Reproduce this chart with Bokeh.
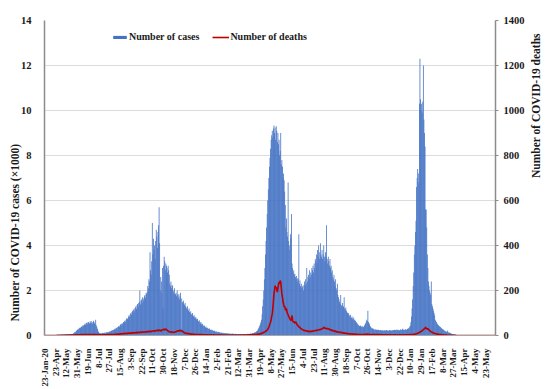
import math
from bokeh.plotting import figure
from bokeh.models import (Range1d, LinearAxis, FixedTicker, Legend, LegendItem, Title)
from bokeh.embed import file_html
from bokeh.resources import INLINE

# ---------------- data ----------------
# x-axis category labels (one every 19 categories)
tick_labels = ["23-Jan-20", "23-Apr", "12-May", "31-May", "19-Jun", "8-Jul", "27-Jul",
               "15-Aug", "3-Sep", "22-Sep", "11-Oct", "30-Oct", "18-Nov", "7-Dec",
               "26-Dec", "14-Jan", "2-Feb", "21-Feb", "12-Mar", "31-Mar", "19-Apr",
               "8-May", "27-May", "15-Jun", "4-Jul", "23-Jul", "11-Aug", "30-Aug",
               "18-Sep", "7-Oct", "26-Oct", "14-Nov", "3-Dec", "22-Dec", "10-Jan",
               "29-Jan", "17-Feb", "8-Mar", "27-Mar", "15-Apr", "4-May", "23-May"]

# daily cases, in thousands
cases_early = [0, 0, 0, 0, 0, 0, 0, 0, 0, 0, 0, 0, 0, 0, 0, 0, 0, 0, 0, .01,
               .01, .02, .01, .02, .02, .03, .02, .02, .03, .03, .03, .03, .04, .03, .04,
               .04, .04, .05, .04, .05, .05, .05, .06, .05, .06, .06, .06, .07, .06, .07]
cases_wave1 = [.08, .10, .12, .15, .14, .18, .20, .24, .27, .26,
               .30, .32, .35, .33, .38, .40, .37, .43, .46, .42,
               .48, .52, .47, .55, .57, .50, .58, .60, .54, .52,
               .62, .57, .64, .56, .52, .60, .66, .61, .55, .50,
               .70, .46, .38, .30, .22, .16, .12,
               .10, .09, .11, .08, .10, .12, .09, .11, .10, .13, .12, .10, .14, .12, .15, .13, .16, .18, .17]
cases_wave2 = [.18, .20, .22, .19, .24, .26, .23, .28, .30, .27, .33, .35, .31, .38, .40,
               .42, .38, .46, .50, .45, .52, .55, .50, .60, .58, .63, .68, .60, .72, .78,
               .75, .70, .85, .90, .82, .95, 1.00, .92, 1.05, 1.10, 1.00, 1.15, 1.20, 1.08, 1.25,
               1.30, 1.18, 1.35, 1.40, 1.28, 1.45, 1.50, 2.00, 1.38, 1.55, 1.60, 1.45, 1.70, 1.65, 1.55,
               1.75, 1.80, 1.68, 1.90, 1.85, 1.95, 2.20, 2.10, 2.50, 2.40, 3.70, 2.90, 2.70, 3.30, 5.00,
               3.60, 4.30, 3.80, 4.00, 3.40, 4.20, 4.70, 4.40, 3.90, 4.60, 4.90, 5.70, 4.10, 2.00, 2.60,
               2.40, 1.90, 3.00, 1.20, 3.10, 3.50, 3.30, 2.90, 3.20, 3.10, 3.00, 2.80, 3.10, 2.90, 2.70,
               2.30, 2.20, 2.40, 2.10, 2.25, 2.20, 2.00, 1.90, 2.10, 1.80, 1.85, 1.90, 1.75, 2.00, 1.80,
               1.70, 1.85, 1.60, 1.75, 1.90, .30, 1.65, 1.50, 1.45, 1.55, 1.40, 1.35, 1.45, 1.30, 1.25,
               1.20, 1.30, 1.15, 1.10, 1.20, 1.05, 1.00, 1.08, .95, .92, 1.00, .88, .85, .90, .80,
               .78, .82, .72, .70, .75, .65, .62, .68, .58, .55, .60, .50, .48, .52, .45,
               .42, .45, .38, .36, .40, .33, .32, .35, .30, .28, .31, .26, .25, .27, .23,
               .22, .24, .20, .19, .21, .18, .17, .19, .16, .15, .17, .14, .13, .15, .12,
               .12, .13, .11, .10, .12, .10, .09, .11, .10, .09, .10, .08, .09, .10, .08,
               .08, .09, .07, .08, .07, .09, .08, .07, .08, .06, .07, .08, .07, .06, .07,
               .06, .07, .05, .06, .07, .06, .05, .06, .07, .06, .05, .06, .07, .06, .07,
               .06, .07, .08, .07, .06, .08, .07, .09, .08, .07, .09, .10, .08, .10, .12]
cases_wave3 = [.13, .15, .14, .18, .20, .22, .28, .32, .40, .45, .52, .60, .70, .95, 1.30,
               1.60, 2.00, 2.50, 3.00, 3.60, 4.20, 4.80, 5.40, 6.00, 6.50, 7.00, 7.50, 7.90, 8.30, 8.70,
               8.90, 9.10, 8.80, 9.20, 9.33, 9.00, 9.25, 8.70, 9.30, 9.10, 8.60, 9.00, 8.50, 8.70, 8.00,
               8.20, 9.00, 7.60, 7.80, 7.50, 7.00, 7.20, 6.90, 6.40, 5.80, 4.80, 5.20, 4.60, 4.40, 6.80,
               4.20, 4.00, 3.80, 4.50, 4.30, 5.40, 3.20, 3.00, 2.80, 2.90, 2.70, 2.75, 2.60, 2.50, 2.65,
               2.40, 2.55, 2.50, 4.50, 2.30, 2.45, 2.20, 2.10, 2.30, 2.15, 2.20, 2.00, 2.25, 2.40, 2.20,
               2.50, 2.30, 3.00, 2.40, 2.60, 2.70, 2.50, 2.90, 2.60, 2.80, 2.70, 3.00, 2.90, 3.10, 2.80,
               3.20, 3.00, 3.40, 3.30, 3.60, 3.20, 3.80, 3.50, 4.00, 3.70, 3.40, 4.10, 3.60, 3.50, 3.80,
               3.40, 3.60, 4.00, 3.50, 3.30, 3.70, 3.50, 4.90, 3.40, 3.20, 3.50, 3.30, 3.10, 3.40, 3.00,
               3.10, 2.80, 2.90, 2.60, 2.50, 2.70, 2.40, 2.20, 2.50, 2.10, 2.00, 2.30, 1.80, 1.70, 1.60,
               1.50, 1.40, 1.80, 1.35, 1.30, 1.45, 1.25, 1.30, 1.70, 1.20, 1.15, 1.25, 1.10, 1.05, 1.00,
               .95, 1.00, .90, .85, .92, .80, .78, .85, .75, .72, .80, .68, .70, .65, .60,
               .58, .55, .50, .48, .45, .42, .40, .44, .38, .40, .42, .36, .38, .40, .45,
               .50, .55, .62, .70, .65, 1.10, .60, .55, .50, .42, .38, .35, .30, .32, .28,
               .30, .27, .25, .28, .26, .24, .27, .25, .23, .26, .24, .22, .25, .23, .21,
               .24, .22, .20, .23, .21, .25, .22, .20, .24, .21, .23, .20, .22, .24, .21,
               .23, .20, .22, .25, .21, .24, .22, .26, .23, .25, .22, .27, .24, .26, .23]
cases_wave4 = [.25, .22, .24, .28, .23, .26, .30, .24, .27, .22, .25, .29, .26, .24, .28,
               .30, .27, .32, .35, .40, .45, .60, .85, 1.20, 1.60, 2.20, 2.80, 3.60, 4.00, 4.60,
               5.10, 6.60, 7.00, 7.40, 7.20, 6.80, 10.30, 12.30, 10.50, 10.00, 10.30, 9.90, 10.40, 12.00, 9.60,
               9.00, 8.40, 5.60, 5.60, 4.80, 3.60, 3.00, 2.40, 2.20, 2.00, 1.90, 1.80, 2.40, 1.40, 1.30,
               1.20, 1.10, 1.00, .90, .70, .65, .60, .55, .50, .48, .45, .42, .40, .38, .35,
               .32, .30, .28, .25, .27, .22, .20, .18, .20, .16, .15, .22, .14, .12, .13,
               .11, .10, .09, .08, .07, .06, .05, .05, .04, .04, .03, .03, .02, .02, .02]
cases_late = [.02, .01, .02, .01, .01, .02, .01, .01, .01, .01,
              .01, .01, 0, .01, .01, 0, .01, 0, .01, 0,
              0, .01, 0, 0, .01, 0, 0, 0, .01, 0,
              0, 0, 0, 0, 0, 0, 0, 0, 0, 0,
              0, 0, 0, 0, 0, 0, 0, 0, 0, 0,
              0, 0, 0, 0, 0, 0, 0, 0, 0, 0,
              0, 0, 0, 0, 0, 0]

# daily deaths
deaths_early = [0, 0, 0, 0, 0, 0, 0, 0, 0, 0, 0, 0, 0, 0, 0, 0, 0, 0, 0, 0,
                0, 0, 1, 0, 1, 0, 1, 1, 0, 1, 1, 0, 1, 1, 1, 0, 1, 1, 2, 1,
                1, 2, 1, 1, 2, 1, 2, 2, 1, 2]
deaths_wave1 = [2, 1, 2, 2, 3, 2, 2, 3, 2, 3, 3, 2, 3, 3, 4, 3, 3, 4, 3, 4,
                4, 3, 4, 5, 3, 4, 4, 5, 4, 3, 5, 4, 4, 5, 3, 4, 5, 4, 4, 3,
                5, 4, 3, 3, 4, 3, 3,
                3, 2, 3, 2, 2, 3, 2, 3, 2, 3, 3, 2, 3, 3, 4, 3, 3, 4, 3]
deaths_wave2 = [4, 3, 4, 5, 4, 5, 4, 5, 6, 5, 6, 5, 6, 7, 6,
                7, 6, 7, 8, 7, 8, 7, 9, 8, 9, 8, 9, 10, 9, 8,
                10, 9, 11, 10, 9, 11, 12, 10, 11, 12, 10, 13, 12, 11, 13,
                12, 14, 13, 11, 14, 15, 13, 12, 16, 14, 15, 13, 17, 15, 14,
                16, 15, 17, 14, 18, 16, 15, 19, 17, 18, 16, 20, 18, 17, 19,
                21, 19, 22, 20, 18, 23, 21, 24, 22, 20, 25, 23, 22, 24, 20,
                22, 25, 24, 27, 26, 28, 25, 27, 29, 26, 24, 22, 20, 18, 17,
                16, 15, 17, 14, 16, 15, 13, 15, 14, 16, 15, 17, 18, 20, 19,
                21, 20, 22, 23, 21, 20, 22, 19, 17, 15, 13, 12, 11, 10, 9,
                10, 9, 8, 9, 8, 7, 8, 7, 6, 7, 6, 5, 6, 5, 6,
                5, 4, 5, 4, 5, 4, 4, 3, 4, 3, 4, 3, 3, 4, 3,
                3, 2, 3, 3, 2, 3, 2, 3, 2, 2, 3, 2, 2, 3, 2,
                2, 2, 3, 2, 2, 1, 2, 2, 1, 2, 2, 1, 2, 1, 2,
                1, 2, 1, 1, 2, 1, 1, 2, 1, 1, 1, 2, 1, 1, 1,
                1, 1, 2, 1, 1, 1, 1, 2, 1, 1, 1, 1, 2, 1, 1,
                1, 2, 1, 1, 1, 2, 1, 1, 2, 1, 2, 1, 2, 2, 1,
                2, 2, 1, 2, 2, 3, 2, 3, 2, 3, 3, 4, 3, 4, 4]
deaths_wave3 = [4, 5, 4, 5, 6, 5, 6, 7, 6, 7, 8, 9, 8, 10, 11,
                12, 14, 15, 16, 18, 20, 22, 24, 28, 32, 38, 45, 52, 60, 70,
                85, 96, 120, 150, 185, 200, 222, 210, 215, 205, 193, 210, 225, 237, 230,
                244, 238, 210, 185, 170, 150, 140, 126, 130, 118, 111, 120, 105, 98, 92,
                85, 81, 75, 70, 67, 72, 89, 65, 60, 62, 58, 55, 60, 59, 52,
                48, 45, 42, 37, 40, 35, 32, 30, 28, 27, 25, 24, 22, 23, 21,
                22, 20, 21, 18, 19, 17, 20, 18, 16, 19, 17, 20, 18, 21, 19,
                22, 20, 23, 21, 24, 22, 25, 23, 26, 24, 28, 25, 30, 27, 32,
                30, 33, 37, 35, 31, 34, 30, 33, 29, 32, 28, 30, 26, 25, 27,
                24, 22, 25, 21, 20, 22, 19, 18, 20, 17, 16, 18, 15, 14, 15,
                14, 13, 15, 12, 13, 12, 11, 12, 10, 11, 10, 9, 10, 9, 8,
                9, 8, 8, 7, 8, 7, 7, 6, 7, 6, 6, 7, 6, 5, 6,
                5, 6, 5, 5, 4, 5, 4, 5, 4, 4, 5, 4, 5, 4, 5,
                5, 6, 5, 6, 7, 6, 5, 6, 5, 4, 5, 4, 4, 5, 4,
                4, 3, 4, 4, 3, 4, 3, 4, 3, 3, 4, 3, 3, 4, 3,
                3, 3, 2, 3, 3, 2, 3, 2, 3, 3, 2, 3, 2, 2, 3,
                2, 3, 2, 2, 3, 2, 2, 3, 2, 3, 2, 2, 3, 2, 2]
deaths_wave4 = [2, 3, 2, 2, 3, 2, 3, 2, 2, 3, 2, 3, 2, 3, 3,
                3, 2, 3, 3, 4, 3, 4, 4, 5, 4, 5, 5, 6, 6, 7,
                7, 8, 9, 10, 11, 12, 14, 15, 17, 18, 20, 22, 24, 26, 28,
                30, 33, 37, 32, 30, 28, 31, 27, 25, 22, 20, 18, 16, 15, 13,
                12, 11, 10, 9, 9, 8, 7, 7, 6, 6, 5, 5, 4, 4, 4,
                3, 3, 3, 3, 2, 2, 2, 2, 2, 2, 1, 1, 1, 1, 1,
                1, 1, 1, 1, 1, 0, 1, 0, 0, 1, 0, 0, 0, 0, 0]
deaths_late = [0, 0, 0, 0, 0, 0, 0, 0, 0, 0, 0, 0, 0, 0, 0, 0, 0, 0, 0, 0,
               0, 0, 0, 0, 0, 0, 0, 0, 0, 0, 0, 0, 0, 0, 0, 0, 0, 0, 0, 0,
               0, 0, 0, 0, 0, 0, 0, 0, 0, 0, 0, 0, 0, 0, 0, 0, 0, 0, 0, 0,
               0, 0, 0, 0, 0, 0]

cases = cases_early + cases_wave1 + cases_wave2 + cases_wave3 + cases_wave4 + cases_late
deaths = deaths_early + deaths_wave1 + deaths_wave2 + deaths_wave3 + deaths_wave4 + deaths_late
x_cases = list(range(len(cases)))
x_deaths = list(range(len(deaths)))
n_cat = max(len(cases), len(deaths))

tick_pos = [i * 19 for i in range(len(tick_labels))]

# ---------------- figure ----------------
FONT = "Liberation Serif"
TXT = "#1a1a1a"
p = figure(width=550, height=389, output_backend="svg", toolbar_location=None,
           x_range=Range1d(-0.5, n_cat - 0.5), y_range=Range1d(0, 14),
           min_border_left=44, min_border_right=53, min_border_top=20, min_border_bottom=54)
p.outline_line_color = None
p.background_fill_color = "white"
p.border_fill_color = "white"

p.extra_y_ranges = {"deaths": Range1d(0, 1400)}

bars = p.vbar(x=x_cases, top=cases, width=1.4, fill_color="#4472C4", line_color=None)
line = p.line(x=x_deaths, y=deaths, y_range_name="deaths", line_color="#C00000", line_width=1.6)

# x axis
xa = p.xaxis[0]
xa.ticker = FixedTicker(ticks=tick_pos)
xa.major_label_overrides = {t: l for t, l in zip(tick_pos, tick_labels)}
xa.major_label_orientation = math.pi / 2
xa.major_label_text_font = FONT
xa.major_label_text_font_style = "bold"
xa.major_label_text_font_size = "9px"
xa.major_label_text_color = TXT
xa.major_label_standoff = 7
xa.major_tick_line_color = None
xa.minor_tick_line_color = None
xa.axis_line_color = "#a6a6a6"

# left y axis
ya = p.yaxis[0]
ya.ticker = FixedTicker(ticks=[0, 2, 4, 6, 8, 10, 12, 14])
ya.major_label_text_font = FONT
ya.major_label_text_font_style = "bold"
ya.major_label_text_font_size = "10.5px"
ya.major_label_text_color = TXT
ya.major_tick_line_color = None
ya.minor_tick_line_color = None
ya.axis_line_color = "#8c8c8c"
ya.axis_line_width = 1.5
ya.major_label_standoff = 7

# right y axis
ra = LinearAxis(y_range_name="deaths", ticker=FixedTicker(ticks=[0, 200, 400, 600, 800, 1000, 1200, 1400]))
ra.major_label_text_font = FONT
ra.major_label_text_font_style = "bold"
ra.major_label_text_font_size = "10.5px"
ra.major_label_text_color = TXT
ra.major_tick_line_color = "#8c8c8c"
ra.major_tick_out = 3
ra.major_tick_in = 0
ra.minor_tick_line_color = None
ra.axis_line_color = "#8c8c8c"
ra.axis_line_width = 1.5
ra.major_label_standoff = 5
ra.axis_label = "Number of COVID-19 deaths"
ra.axis_label_text_font = FONT
ra.axis_label_text_font_style = "bold"
ra.axis_label_text_font_size = "11.5px"
ra.axis_label_text_color = TXT
ra.axis_label_standoff = 8
if "axis_label_orientation" in ra.properties():
    ra.axis_label_orientation = math.pi / 2
p.add_layout(ra, "right")

p.xgrid.visible = False
p.ygrid.ticker = FixedTicker(ticks=[0, 2, 4, 6, 8, 10, 12, 14])
p.ygrid.grid_line_color = "#dcdcdc"

# left axis title (placed towards the bottom as in the original)
p.add_layout(Title(text="Number of COVID-19 cases (\u00d71000)", align="left", offset=14,
                   text_font=FONT, text_font_style="bold", text_font_size="11.5px",
                   text_color=TXT, standoff=-6), "left")

legend = Legend(items=[LegendItem(label="Number of cases", renderers=[bars]),
                       LegendItem(label="Number of deaths", renderers=[line])],
                orientation="horizontal", location=(67, 293),
                border_line_color=None, background_fill_alpha=0,
                label_text_font=FONT, label_text_font_style="bold",
                label_text_font_size="10px", label_text_color=TXT,
                glyph_width=17, glyph_height=4, label_height=10, label_standoff=1,
                spacing=13, padding=0, margin=0)
p.add_layout(legend)

open("out.html", "w").write(file_html(p, INLINE))
